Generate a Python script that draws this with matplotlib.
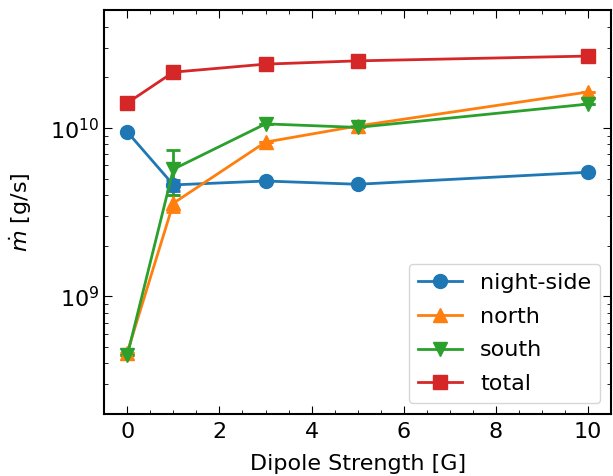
import matplotlib
matplotlib.use("Agg")
import matplotlib.pyplot as plt
from matplotlib.ticker import AutoMinorLocator
from matplotlib.lines import Line2D

x = [0, 1, 3, 5, 10]
night = [9.5e9, 4.6e9, 4.85e9, 4.64e9, 5.47e9]
night_err = [0, 0.35e9, 0, 0, 0]
north = [4.64e8, 3.58e9, 8.26e9, 1.03e10, 1.64e10]
north_err = [0, 0.4e9, 0, 0, 0]
south = [4.46e8, 5.7e9, 1.06e10, 1.01e10, 1.39e10]
south_err = [0, 1.7e9, 0, 0, 0]
total = [1.41e10, 2.15e10, 2.40e10, 2.51e10, 2.68e10]
total_err = [0, 0, 0, 0, 0]

labels = ['night-side', 'north', 'south', 'total']
markers = ['o', '^', 'v', 's']
colors = ['C0', 'C1', 'C2', 'C3']

plt.rcParams['font.size'] = 16
fig, ax = plt.subplots(figsize=(6.13, 4.76), dpi=100)

kw = dict(lw=2, ms=10, capsize=5, elinewidth=2, capthick=2)
handles = []
for ys, es, m, c, lab in zip([night, north, south, total],
                             [night_err, north_err, south_err, total_err],
                             markers, colors, labels):
    ax.errorbar(x, ys, yerr=es, marker=m, color=c, **kw)
    handles.append(Line2D([], [], marker=m, color=c, lw=2, ms=10, label=lab))

ax.set_yscale('log')
ax.set_ylim(2e8, 5e10)
ax.set_xlim(-0.5, 10.5)
ax.xaxis.set_minor_locator(AutoMinorLocator(4))
ax.tick_params(which='both', direction='in', top=True, right=True)
ax.tick_params(which='major', length=6)
ax.tick_params(which='minor', length=3)
ax.tick_params(axis='x', which='major', pad=6)
for s in ax.spines.values():
    s.set_linewidth(1.5)
ax.set_xlabel('Dipole Strength [G]', labelpad=8)
ax.set_ylabel(r'$\dot{m}$ [g/s]', labelpad=12)
ax.legend(handles=handles, loc='lower right', labelspacing=0.62)
fig.subplots_adjust(left=0.17, right=0.997, top=0.978, bottom=0.13)
fig.savefig('out.png')
